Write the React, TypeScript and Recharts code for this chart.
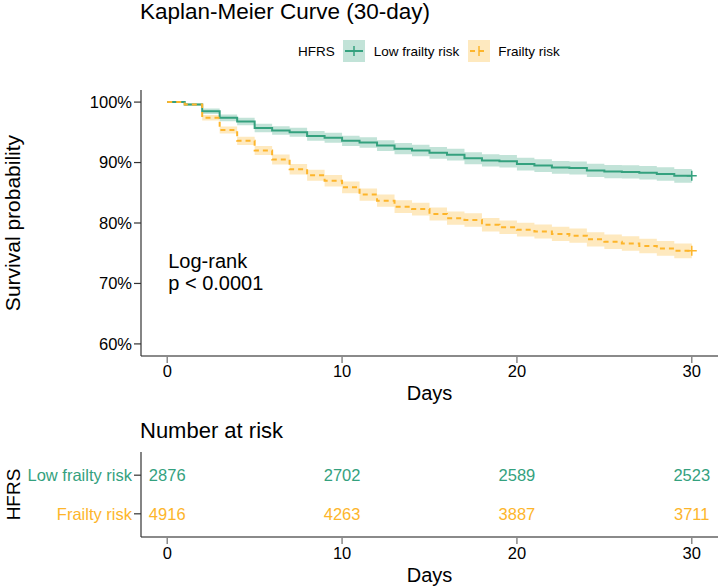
import React from 'react';
import {
  ComposedChart,
  Line,
  Area,
  XAxis,
  YAxis,
  ReferenceDot,
  ScatterChart,
  Scatter,
  Label,
} from 'recharts';

// Kaplan-Meier estimates, one value per day interval [t, t+1)
const days = [
  0, 1, 2, 3, 4, 5, 6, 7, 8, 9, 10, 11, 12, 13, 14, 15, 16, 17, 18, 19, 20, 21, 22, 23, 24, 25, 26, 27, 28, 29, 30,
];
const lowSurv = [
  100, 99.6, 98.5, 97.4, 96.8, 95.7, 95.3, 95.0, 94.4, 94.1, 93.6, 93.3, 92.8, 92.3, 92.0, 91.6, 91.3, 90.7, 90.35,
  90.2, 89.75, 89.5, 89.2, 89.1, 88.7, 88.5, 88.45, 88.3, 88.1, 87.8, 87.8,
];
const frailSurv = [
  100, 99.6, 97.4, 95.4, 93.6, 92.0, 90.5, 88.9, 87.9, 87.0, 85.9, 84.7, 83.7, 82.7, 82.3, 81.5, 80.8, 80.5, 79.7,
  79.3, 78.9, 78.6, 78.2, 77.9, 77.3, 76.9, 76.6, 76.2, 75.8, 75.4, 75.4,
];
// half-width of the 95% confidence band (percentage points)
const lowCi = [
  0, 0.25, 0.45, 0.55, 0.62, 0.7, 0.72, 0.75, 0.8, 0.82, 0.85, 0.87, 0.9, 0.93, 0.95, 0.97, 0.98, 1.0, 1.02, 1.03,
  1.05, 1.06, 1.07, 1.08, 1.1, 1.1, 1.1, 1.12, 1.13, 1.15, 1.15,
];
const frailCi = [
  0, 0.18, 0.45, 0.58, 0.68, 0.75, 0.82, 0.88, 0.92, 0.95, 0.97, 1.0, 1.03, 1.05, 1.06, 1.08, 1.1, 1.1, 1.12, 1.13,
  1.14, 1.15, 1.16, 1.17, 1.18, 1.19, 1.2, 1.2, 1.21, 1.22, 1.22,
];

// number at risk table
const riskDays = [0, 10, 20, 30];
const lowRisk = [2876, 2702, 2589, 2523];
const frailRisk = [4916, 4263, 3887, 3711];

const groupNames = ['Low frailty risk', 'Frailty risk'];
const xTicks = [0, 10, 20, 30];
const yTicks = [60, 70, 80, 90, 100];

const GREEN = '#34A17E';
const ORANGE = '#FDB52B';
const GREEN_FILL = '#C2E3D8';
const ORANGE_FILL = '#FEE9BF';
const FONT = "'Liberation Sans', Arial, sans-serif";

const kmData = days.map((t, i) => ({
  t,
  low: lowSurv[i],
  frail: frailSurv[i],
  lowBand: [lowSurv[i] - lowCi[i], lowSurv[i] + lowCi[i]],
  frailBand: [frailSurv[i] - frailCi[i], frailSurv[i] + frailCi[i]],
}));

const lowRows = riskDays.map((t, i) => ({ t, row: 2, n: lowRisk[i] }));
const frailRows = riskDays.map((t, i) => ({ t, row: 1, n: frailRisk[i] }));

// censor "+" only on the last point
const endPlus = (color: string) => (props: any) => {
  const { cx, cy, index } = props;
  if (index !== days.length - 1 || cx == null) return <g key={`d${index}`} />;
  return (
    <path
      key={`d${index}`}
      d={`M${cx - 5},${cy}H${cx + 5}M${cx},${cy - 5}V${cy + 5}`}
      stroke={color}
      strokeWidth={1.5}
      strokeDasharray="none"
      fill="none"
    />
  );
};

const yTitle = (text: string, cx: number, size: number) => (props: any) => {
  const vb = props.viewBox || {};
  const cy = (vb.y ?? 0) + (vb.height ?? 0) / 2;
  return (
    <text
      x={cx}
      y={cy}
      transform={`rotate(-90, ${cx}, ${cy})`}
      textAnchor="middle"
      dy="0.355em"
      fontSize={size}
      fill="#000"
      fontFamily={FONT}
    >
      {text}
    </text>
  );
};

const RiskTick = ({ x, y, payload }: any) => {
  const i = payload.value === 2 ? 0 : 1;
  return (
    <text x={x} y={y} textAnchor="end" dy="0.355em" fontSize={16.5} fill={i === 0 ? GREEN : ORANGE} fontFamily={FONT}>
      {groupNames[i]}
    </text>
  );
};

const riskShape = (color: string) => (props: any) => (
  <text x={props.cx} y={props.cy} textAnchor="middle" dy="0.355em" fontSize={16.5} fill={color} fontFamily={FONT}>
    {props.payload.n}
  </text>
);

const LegendKey = ({ color, fill, dashed }: { color: string; fill: string; dashed?: boolean }) => (
  <svg width={22} height={22} style={{ display: 'block' }}>
    <rect x={0} y={0} width={22} height={22} fill={fill} />
    <line x1={2} y1={11} x2={20} y2={11} stroke={color} strokeWidth={2} strokeDasharray={dashed ? '5 4' : undefined} />
    <line x1={11} y1={6} x2={11} y2={16} stroke={color} strokeWidth={1.5} />
  </svg>
);

export default function App() {
  const tickStyle = { fontSize: 16.5, fill: '#000', fontFamily: FONT };
  return (
    <div style={{ position: 'absolute', left: 0, top: 0, width: 720, height: 588, background: '#fff', fontFamily: FONT }}>
      <div style={{ position: 'absolute', left: 140, top: 1, fontSize: 22.5, lineHeight: '22.5px', color: '#000' }}>
        Kaplan-Meier Curve (30-day)
      </div>

      {/* legend */}
      <div
        style={{
          position: 'absolute',
          left: 298,
          top: 40,
          height: 22,
          display: 'flex',
          alignItems: 'center',
          fontSize: 13.5,
          color: '#000',
          whiteSpace: 'nowrap',
        }}
      >
        <span style={{ marginRight: 8 }}>HFRS</span>
        <LegendKey color={GREEN} fill={GREEN_FILL} />
        <span style={{ marginLeft: 9, marginRight: 9 }}>Low frailty risk</span>
        <LegendKey color={ORANGE} fill={ORANGE_FILL} dashed />
        <span style={{ marginLeft: 8 }}>Frailty risk</span>
      </div>

      <div style={{ position: 'absolute', left: 0, top: 0 }}>
        <ComposedChart width={720} height={420} data={kmData} margin={{ top: 90, right: 2, bottom: 0, left: 0 }}>
          <XAxis
            dataKey="t"
            type="number"
            domain={[-1.5, 31.5]}
            ticks={xTicks}
            allowDataOverflow
            height={64}
            tickSize={7}
            axisLine={{ stroke: '#8a8a8a', strokeWidth: 2 }}
            tickLine={{ stroke: '#8a8a8a', strokeWidth: 1.5 }}
            tick={tickStyle}
          >
            <Label value="Days" position="insideBottom" offset={20} fontSize={20} fill="#000" fontFamily={FONT} />
          </XAxis>
          <YAxis
            type="number"
            domain={[58, 102]}
            ticks={yTicks}
            allowDataOverflow
            width={141}
            tickSize={7}
            tickFormatter={(v: number) => `${v}%`}
            axisLine={{ stroke: '#333', strokeWidth: 1.2 }}
            tickLine={{ stroke: '#333', strokeWidth: 1.2 }}
            tick={tickStyle}
          >
            <Label content={yTitle('Survival probability', 13, 21)} />
          </YAxis>
          <Area
            type="stepAfter"
            dataKey="lowBand"
            stroke="none"
            fill={GREEN_FILL}
            fillOpacity={1}
            isAnimationActive={false}
          />
          <Area
            type="stepAfter"
            dataKey="frailBand"
            stroke="none"
            fill={ORANGE_FILL}
            fillOpacity={1}
            isAnimationActive={false}
          />
          <Line
            type="stepAfter"
            dataKey="low"
            stroke={GREEN}
            strokeWidth={2}
            dot={endPlus(GREEN)}
            activeDot={false}
            isAnimationActive={false}
          />
          <Line
            type="stepAfter"
            dataKey="frail"
            stroke={ORANGE}
            strokeWidth={2}
            strokeDasharray="5 4"
            dot={endPlus(ORANGE)}
            activeDot={false}
            isAnimationActive={false}
          />
          <ReferenceDot
            x={0}
            y={73.8}
            r={1}
            fill="none"
            stroke="none"
            label={{ value: 'Log-rank', position: 'right', offset: 0, fontSize: 20, fill: '#000', fontFamily: FONT }}
          />
          <ReferenceDot
            x={0}
            y={70.1}
            r={1}
            fill="none"
            stroke="none"
            label={{ value: 'p < 0.0001', position: 'right', offset: 0, fontSize: 20, fill: '#000', fontFamily: FONT }}
          />
        </ComposedChart>
      </div>

      <div style={{ position: 'absolute', left: 140, top: 420, fontSize: 22, lineHeight: '22px', color: '#000' }}>
        Number at risk
      </div>

      <div style={{ position: 'absolute', left: 0, top: 420 }}>
        <ScatterChart width={720} height={168} margin={{ top: 32, right: 2, bottom: 0, left: 0 }}>
          <XAxis
            dataKey="t"
            type="number"
            domain={[-1.5, 31.5]}
            ticks={xTicks}
            allowDataOverflow
            height={51}
            tickSize={7}
            tickMargin={3}
            axisLine={{ stroke: '#8a8a8a', strokeWidth: 2 }}
            tickLine={{ stroke: '#8a8a8a', strokeWidth: 1.5 }}
            tick={tickStyle}
          >
            <Label value="Days" position="insideBottom" offset={6} fontSize={20} fill="#000" fontFamily={FONT} />
          </XAxis>
          <YAxis
            dataKey="row"
            type="number"
            domain={[0.4, 2.6]}
            ticks={[1, 2]}
            width={141}
            tickSize={7}
            axisLine={{ stroke: '#333', strokeWidth: 1.2 }}
            tickLine={{ stroke: '#333', strokeWidth: 1.2 }}
            tick={<RiskTick />}
          >
            <Label content={yTitle('HFRS', 13, 19)} />
          </YAxis>
          <Scatter data={lowRows} shape={riskShape(GREEN)} isAnimationActive={false} />
          <Scatter data={frailRows} shape={riskShape(ORANGE)} isAnimationActive={false} />
        </ScatterChart>
      </div>
    </div>
  );
}
